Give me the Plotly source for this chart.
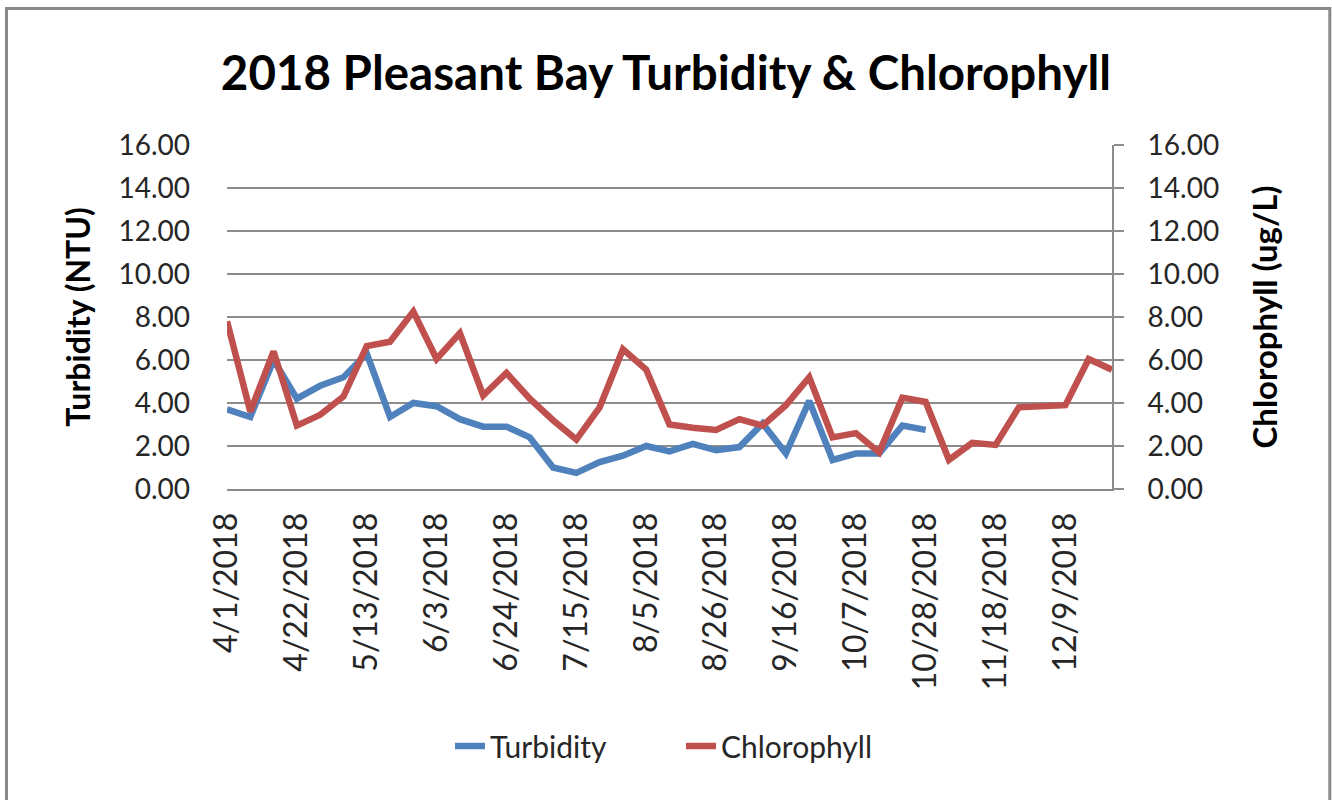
import plotly.graph_objects as go

# ---- data ----
dates = [
    "2018-04-01", "2018-04-08", "2018-04-15", "2018-04-22", "2018-04-29",
    "2018-05-06", "2018-05-13", "2018-05-20", "2018-05-27", "2018-06-03",
    "2018-06-10", "2018-06-17", "2018-06-24", "2018-07-01", "2018-07-08",
    "2018-07-15", "2018-07-22", "2018-07-29", "2018-08-05", "2018-08-12",
    "2018-08-19", "2018-08-26", "2018-09-02", "2018-09-09", "2018-09-16",
    "2018-09-23", "2018-09-30", "2018-10-07", "2018-10-14", "2018-10-21",
    "2018-10-28", "2018-11-04", "2018-11-11", "2018-11-18", "2018-11-25",
    "2018-12-02", "2018-12-09", "2018-12-16", "2018-12-23",
]

turbidity = [
    3.7, 3.35, 6.0, 4.2, 4.8, 5.2, 6.3, 3.35, 4.0, 3.85,
    3.25, 2.9, 2.9, 2.4, 1.0, 0.75, 1.25, 1.55, 2.0, 1.75,
    2.1, 1.8, 1.95, 3.05, 1.65, 4.1, 1.35, 1.65, 1.65, 2.95,
    2.75, None, None, None, None, None, None, None, None,
]

chlorophyll = [
    7.8, 3.6, 6.4, 2.95, 3.45, 4.3, 6.65, 6.85, 8.25, 6.05,
    7.25, 4.35, 5.4, 4.2, 3.2, 2.3, 3.8, 6.5, 5.55, 3.0,
    2.85, 2.75, 3.25, 2.95, 3.9, 5.2, 2.4, 2.6, 1.7, 4.25,
    4.05, 1.35, 2.15, 2.05, 3.8, 3.85, 3.9, 6.05, 5.55,
]

series_names = ["Turbidity", "Chlorophyll"]
title_text = "2018 Pleasant Bay Turbidity &amp; Chlorophyll"
left_title = "Turbidity (NTU)"
right_title = "Chlorophyll (ug/L)"
x_range = ["2018-04-01", "2018-12-23"]
x_tick_start = "2018-04-01"
x_tick_days = 21
y_range = [0, 16]
y_step = 2

# ---- styling ----
BLUE = "#4F81BD"
RED = "#C0504D"
GRID = "#8C8C8C"
TXT = "#262626"
FONT = "Lato"

W, H = 1332, 800
L, R, T, B = 227, 220, 145, 311
pw, ph = W - L - R, H - T - B

fig = go.Figure()
fig.add_trace(go.Scatter(
    x=dates, y=turbidity, name=series_names[0], mode="lines",
    line=dict(color=BLUE, width=6.5), connectgaps=False, yaxis="y",
))
fig.add_trace(go.Scatter(
    x=dates, y=chlorophyll, name=series_names[1], mode="lines",
    line=dict(color=RED, width=6.5), yaxis="y2",
))

def px_x(x):
    return (x - L) / pw

def px_y(y):
    return (H - B - y) / ph

fig.update_layout(
    width=W, height=H,
    margin=dict(l=L, r=R, t=T, b=B),
    paper_bgcolor="white", plot_bgcolor="white",
    font=dict(family=FONT, color=TXT),
    title=dict(
        text="<b>" + title_text + "</b>",
        font=dict(family=FONT, size=47.5, color="black"),
        x=0.5, xanchor="center", y=1 - 73 / H, yanchor="middle",
    ),
    xaxis=dict(
        type="date", range=x_range,
        tick0=x_tick_start, dtick=x_tick_days * 86400000,
        tickformat="%-m/%-d/%Y", tickangle=-90,
        tickfont=dict(family=FONT, size=32, color=TXT),
        showgrid=False, zeroline=False,
        showline=True, linecolor=GRID, linewidth=2,
        ticks="", ticklabelstandoff=9,
    ),
    yaxis=dict(
        range=y_range, dtick=y_step, tickformat=".2f",
        tickfont=dict(family=FONT, size=28, color=TXT),
        showgrid=True, gridcolor=GRID, gridwidth=2,
        zeroline=False, showline=False, ticks="",
        ticklabelstandoff=36,
        title=dict(text="<b>" + left_title + "</b>",
                   font=dict(family=FONT, size=32, color="black"), standoff=18),
    ),
    yaxis2=dict(
        range=y_range, dtick=y_step, tickformat=".2f",
        overlaying="y", side="right",
        tickfont=dict(family=FONT, size=28, color=TXT),
        showgrid=False, zeroline=False,
        showline=True, linecolor=GRID, linewidth=2,
        ticks="outside", ticklen=10, tickwidth=2, tickcolor=GRID,
        ticklabelstandoff=18,
        title=dict(text="<b>" + right_title + "</b>",
                   font=dict(family=FONT, size=33, color="black"), standoff=36),
    ),
    legend=dict(
        orientation="h", xref="container", yref="container",
        x=450 / W, xanchor="left", y=1 - 746 / H, yanchor="middle",
        font=dict(family=FONT, size=30, color=TXT),
        bgcolor="rgba(0,0,0,0)", entrywidth=186,
    ),
    showlegend=True,
)

# outer chart frame
fig.add_shape(
    type="rect", xref="paper", yref="paper",
    x0=px_x(6.5), x1=px_x(1329.8), y0=px_y(820), y1=px_y(8.5),
    line=dict(color="#8A8A8A", width=3), fillcolor="rgba(0,0,0,0)", layer="below",
)

fig.write_html(
    "out.html",
    config={"displayModeBar": False},
    post_script="document.body.style.margin='0';document.body.style.overflow='hidden';",
)
